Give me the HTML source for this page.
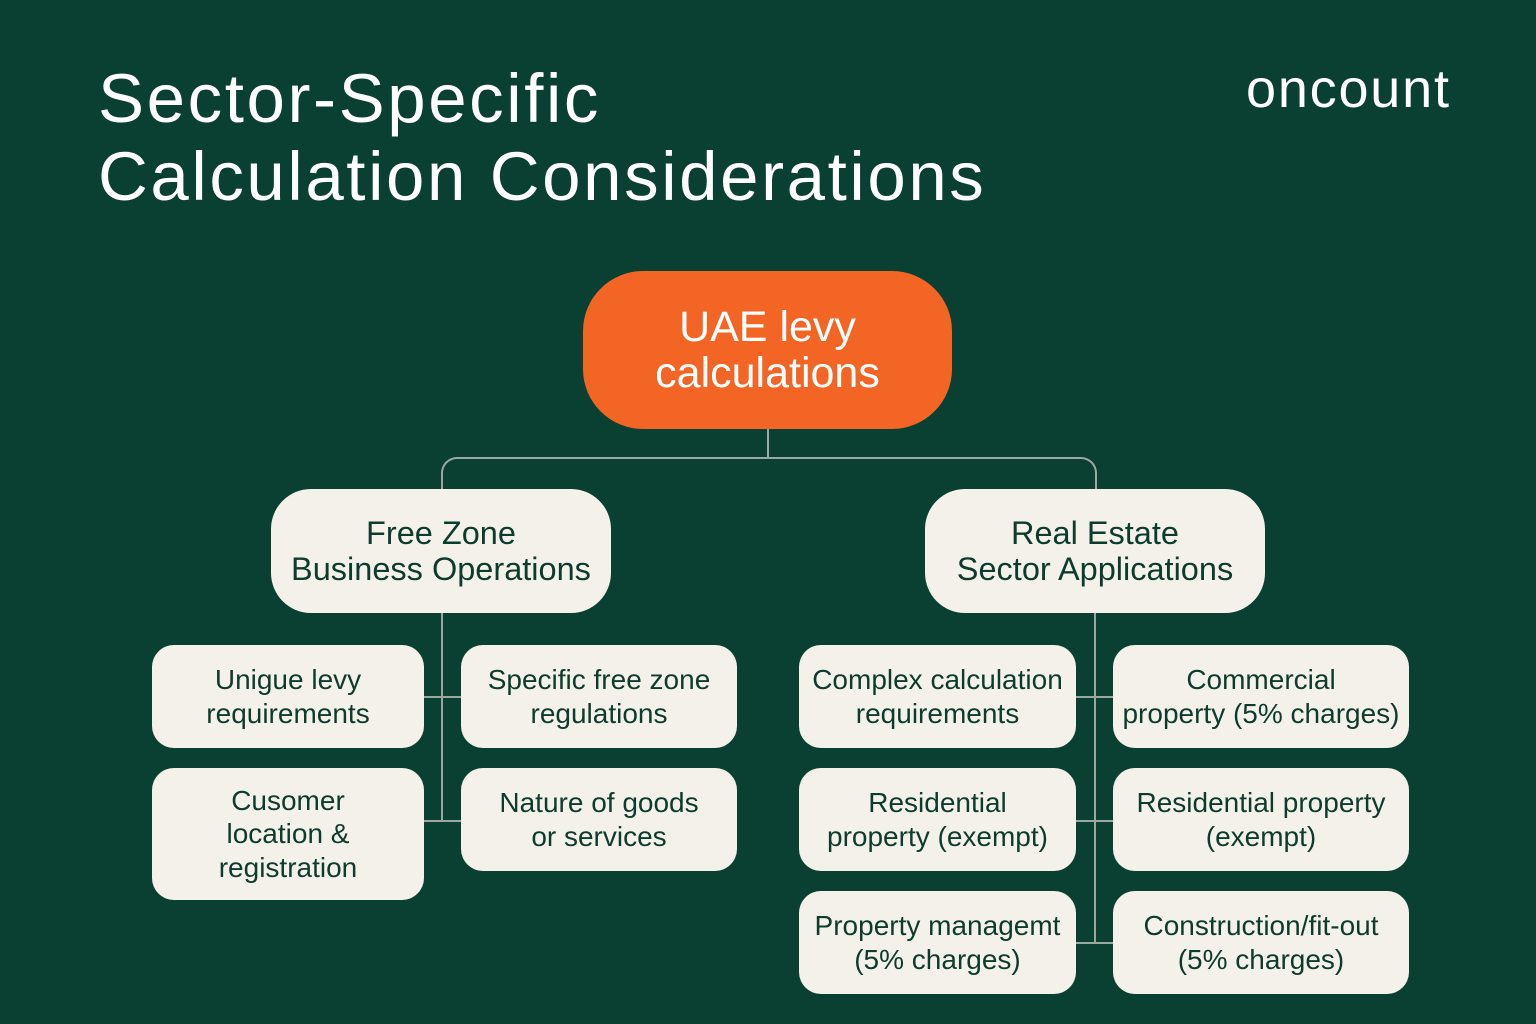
<!DOCTYPE html>
<html><head><meta charset="utf-8"><style>
body{margin:0;width:1536px;height:1024px;background:#0a4032;font-family:"Liberation Sans",sans-serif;position:relative;overflow:hidden}
.t{position:absolute;color:#fff}
.b{position:absolute;background:#f4f1ea;color:#0d3b2e;border-radius:22px;display:flex;align-items:center;justify-content:center;text-align:center;font-size:28px;line-height:1.18}
.l{position:absolute;background:#9aa89f}
</style></head><body>
<div class="t" style="left:98px;top:60px;font-size:69px;line-height:78px;letter-spacing:2.6px">Sector-Specific<br>Calculation Considerations</div>
<div class="t" style="left:1246px;top:58px;font-size:54px;letter-spacing:1.8px">oncount</div>
<div class="b" style="left:583px;top:271px;width:369px;height:158px;border-radius:60px;background:#f26524;color:#fff;font-size:43px;line-height:46px">UAE levy<br>calculations</div>
<div class="l" style="left:767px;top:429px;width:2px;height:30px"></div>
<div style="position:absolute;left:441px;top:457px;width:652px;height:34px;border:2px solid #9aa89f;border-bottom:none;border-radius:16px 16px 0 0"></div>
<div class="b" style="left:271px;top:489px;width:340px;height:124px;border-radius:40px;font-size:32.5px;line-height:36px">Free Zone<br>Business Operations</div>
<div class="b" style="left:925px;top:489px;width:340px;height:124px;border-radius:40px;font-size:32.5px;line-height:36px">Real Estate<br>Sector Applications</div>
<div class="l" style="left:441px;top:613px;width:2px;height:208px"></div>
<div class="l" style="left:424px;top:696px;width:38px;height:2px"></div>
<div class="l" style="left:424px;top:820px;width:38px;height:2px"></div>
<div class="l" style="left:1094px;top:613px;width:2px;height:330px"></div>
<div class="l" style="left:1076px;top:696px;width:38px;height:2px"></div>
<div class="l" style="left:1076px;top:820px;width:38px;height:2px"></div>
<div class="l" style="left:1076px;top:942px;width:38px;height:2px"></div>
<div class="b" style="left:152px;top:645px;width:272px;height:103px">Unigue levy<br>requirements</div>
<div class="b" style="left:461px;top:645px;width:276px;height:103px">Specific free zone<br>regulations</div>
<div class="b" style="left:152px;top:768px;width:272px;height:132px">Cusomer<br>location &amp;<br>registration</div>
<div class="b" style="left:461px;top:768px;width:276px;height:103px">Nature of goods<br>or services</div>
<div class="b" style="left:799px;top:645px;width:277px;height:103px">Complex calculation<br>requirements</div>
<div class="b" style="left:1113px;top:645px;width:296px;height:103px">Commercial<br>property (5% charges)</div>
<div class="b" style="left:799px;top:768px;width:277px;height:103px">Residential<br>property (exempt)</div>
<div class="b" style="left:1113px;top:768px;width:296px;height:103px">Residential property<br>(exempt)</div>
<div class="b" style="left:799px;top:891px;width:277px;height:103px">Property managemt<br>(5% charges)</div>
<div class="b" style="left:1113px;top:891px;width:296px;height:103px">Construction/fit-out<br>(5% charges)</div>
</body></html>
